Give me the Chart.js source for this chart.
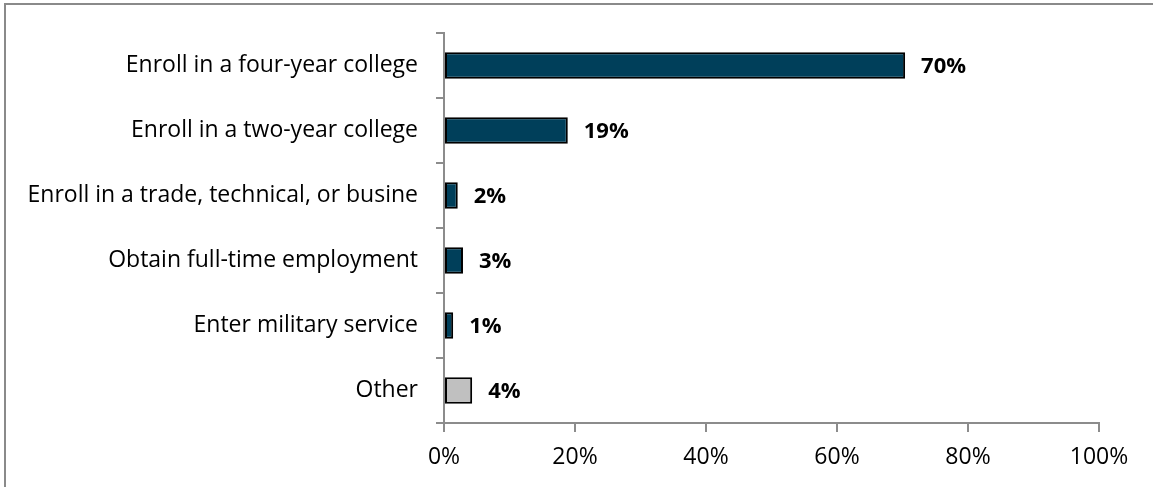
<!DOCTYPE html>
<html>
<head>
<meta charset="utf-8">
<script src="https://cdn.jsdelivr.net/npm/chart.js@4"></script>
<style>
  html, body { margin: 0; padding: 0; background: #fff; overflow: hidden; }
  #wrap { position: absolute; left: 0; top: 0; width: 1153px; height: 487px; }
</style>
</head>
<body>
<div id="wrap"><canvas id="c" width="1153" height="487"></canvas></div>
<script>
// Plans after high school (share of respondents, %)
const categories = [
  'Enroll in a four-year college',
  'Enroll in a two-year college',
  'Enroll in a trade, technical, or busine',
  'Obtain full-time employment',
  'Enter military service',
  'Other'
];
const shares = [70.4, 18.9, 2.1, 2.9, 1.4, 4.3];
const xTicks = [0, 20, 40, 60, 80, 100];

const FONT = '"Open Sans", sans-serif';
const AXIS_GREY = '#8c8c8c';
const barColors = categories.map(c => c === 'Other' ? '#c0c0c0' : '#003f5a');

// Outer frame of the chart area
const framePlugin = {
  id: 'frame',
  beforeDraw(chart) {
    const ctx = chart.ctx;
    ctx.save();
    ctx.strokeStyle = '#8a8a8a';
    ctx.lineWidth = 2;
    ctx.beginPath();
    ctx.moveTo(5, chart.height + 5);
    ctx.lineTo(5, 4);
    ctx.lineTo(chart.width + 5, 4);
    ctx.stroke();
    ctx.restore();
  }
};

// Percentage labels to the right of each bar
const valueLabels = {
  id: 'valueLabels',
  afterDatasetsDraw(chart) {
    const ctx = chart.ctx;
    const meta = chart.getDatasetMeta(0);
    const data = chart.data.datasets[0].data;
    ctx.save();
    ctx.font = 'bold 22px ' + FONT;
    ctx.fillStyle = '#000';
    ctx.textAlign = 'left';
    ctx.textBaseline = 'middle';
    meta.data.forEach((bar, i) => {
      ctx.fillText(Math.round(data[i]) + '%', bar.x + 16, bar.y + 1);
    });
    ctx.restore();
  }
};

new Chart(document.getElementById('c'), {
  type: 'bar',
  data: {
    labels: categories,
    datasets: [{
      data: shares,
      backgroundColor: barColors,
      borderColor: '#000',
      borderWidth: 2,
      borderSkipped: false,
      barPercentage: 0.41,
      categoryPercentage: 1.0
    }]
  },
  options: {
    indexAxis: 'y',
    responsive: false,
    animation: false,
    devicePixelRatio: 1,
    layout: { padding: { top: 33, right: 54, left: 0, bottom: 0 } },
    plugins: {
      legend: { display: false },
      tooltip: { enabled: false }
    },
    scales: {
      x: {
        min: 0,
        max: 100,
        afterBuildTicks(scale) { scale.ticks = xTicks.map(v => ({ value: v })); },
        afterFit(scale) { scale.height = 64; },
        grid: {
          drawOnChartArea: false,
          drawTicks: true,
          tickLength: 9,
          color: AXIS_GREY,
          lineWidth: 2
        },
        border: { color: AXIS_GREY, width: 2 },
        ticks: {
          padding: 12,
          color: '#000',
          font: { family: FONT, size: 23 },
          callback: v => v + '%'
        }
      },
      y: {
        afterFit(scale) { scale.width = 444; },
        grid: {
          offset: true,
          drawOnChartArea: false,
          drawTicks: true,
          tickLength: 8,
          color: AXIS_GREY,
          lineWidth: 2
        },
        border: { color: AXIS_GREY, width: 2 },
        ticks: {
          padding: 18,
          color: '#000',
          font: { family: FONT, size: 23 }
        }
      }
    }
  },
  plugins: [framePlugin, valueLabels]
});
</script>
</body>
</html>
